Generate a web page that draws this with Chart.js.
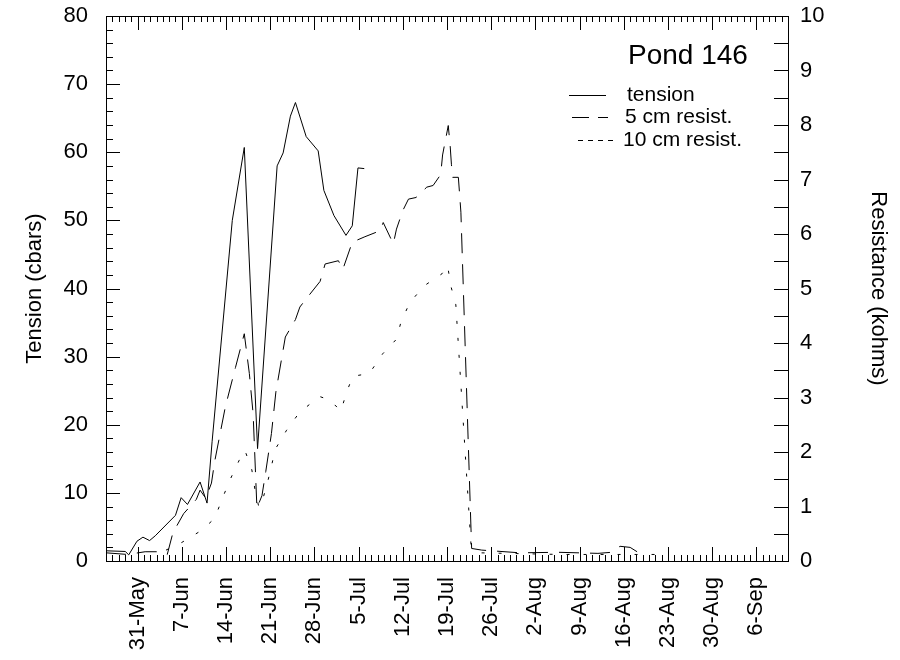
<!DOCTYPE html>
<html>
<head>
<meta charset="utf-8">
<script src="https://cdn.jsdelivr.net/npm/chart.js@4.4.1/dist/chart.umd.min.js"></script>
<style>
  body { margin: 0; background: #fff; }
  #wrap { width: 900px; height: 660px; }
</style>
</head>
<body>
<div id="wrap"><canvas id="pond" width="900" height="660"></canvas></div>
<script>
// days counted from 26-May
var weekTicks = [5, 12, 19, 26, 33, 40, 47, 54, 61, 68, 75, 82, 89, 96, 103];
var weekLabels = ["31-May", "7-Jun", "14-Jun", "21-Jun", "28-Jun", "5-Jul", "12-Jul",
  "19-Jul", "26-Jul", "2-Aug", "9-Aug", "16-Aug", "23-Aug", "30-Aug", "6-Sep"];

// tension (cbars)
var tensionDays = [0, 3.05, 3.6, 4.9, 5.85, 6.9, 7.8, 11, 11.9, 12.9, 14.9, 16, 16.8, 20, 21.9,
  24, 27.1, 28.05, 29.2, 30, 31.7, 33.6, 34.5, 36.1, 38, 39, 39.9, 40.9];
var tensionVals = [1.5, 1.4, 0.9, 2.9, 3.5, 3.0, 3.7, 6.7, 9.3, 8.3, 11.6, 8.5, 17.5, 50, 60.7,
  16.5, 58.0, 59.9, 65.3, 67.3, 62.3, 60.2, 54.4, 50.7, 47.8, 49.2, 57.7, 57.6];

// 5 cm resistance (kohms)
var r5Days = [0, 3.4, 6.2, 9.1, 9.7, 10.6, 12.3, 14.3, 14.9, 15.8, 16.7, 17.2, 18.9, 20.5, 21.9,
  22.7, 23.3, 23.9, 24.7, 25.3, 26.2, 26.9, 28.4, 30, 30.7, 31.7, 33.9, 34.7, 36.8, 37.5, 39,
  41, 43.4, 43.9, 45.5, 46, 47, 47.9, 49.1, 50.8, 51.8, 53, 53.3, 54.2, 54.5, 54.7, 54.9, 55.8,
  56.2, 57.9, 59.5, 65.6, 71.6, 77.9, 80.1, 81.4, 83, 84.1];
var r5Vals = [0.15, 0.12, 0.17, 0.17, 0.12, 0.52, 0.87, 1.13, 1.30, 1.15, 1.43, 1.82, 2.83, 3.55, 4.17,
  3.44, 2.70, 0.97, 1.2, 1.64, 2.34, 3.1, 4.11, 4.43, 4.66, 4.81, 5.13, 5.45, 5.51, 5.35, 5.85,
  5.95, 6.06, 6.21, 5.82, 6.09, 6.43, 6.64, 6.67, 6.86, 6.89, 7.09, 7.45, 7.99, 7.62, 7.28, 7.04, 7.04,
  6.4, 0.23, 0.2, 0.15, 0.16, 0.14, 0.16, 0.27, 0.25, 0.17];

// 10 cm resistance (kohms)
var r10Days = [9.5, 12, 15.1, 17.2, 18.4, 19.6, 21.1, 22, 23.1, 23.6, 24.2, 24.5, 25.4, 26.1, 26.8,
  28.6, 30.6, 33.8, 35.5, 37.2, 38.1, 39.1, 41.7, 43.8, 46, 46.7, 48.1, 50.4, 53.2, 54.1, 54.6,
  55.4, 57.8, 59.2, 71.9, 86.9];
var r10Vals = [0.2, 0.34, 0.56, 0.78, 1.14, 1.48, 1.85, 2.03, 1.67, 1.30, 0.99, 1.01, 1.36, 1.69, 2.05,
  2.40, 2.72, 3.02, 2.95, 2.75, 3.10, 3.39, 3.44, 3.80, 4.07, 4.38, 4.74, 5.05, 5.27, 5.42, 5.05,
  4.7, 0.3, 0.15, 0.12, 0.12];

function pts(days, vals) {
  return days.map((d, i) => ({x: d, y: vals[i]}));
}

var fam = "Arial, 'Liberation Sans', sans-serif";
var tickFont = {family: fam, size: 22};

// no extra room for end labels, the plot box is fixed
function noPad(scale) {
  scale.paddingTop = 0;
  scale.paddingBottom = 0;
  scale.paddingLeft = 0;
  scale.paddingRight = 0;
}

// inward tick marks, frame and the little legend
var decor = {
  id: "decor",
  afterDraw: function(chart) {
    var ctx = chart.ctx;
    var a = chart.chartArea;
    var sx = chart.scales.x, sy = chart.scales.y, sr = chart.scales.y2;
    ctx.save();
    ctx.strokeStyle = "#000";
    ctx.lineWidth = 1;
    ctx.strokeRect(Math.round(a.left) + 0.5, Math.round(a.top) + 0.5,
      Math.round(a.right - a.left), Math.round(a.bottom - a.top));
    ctx.beginPath();
    for (var d = Math.ceil(sx.min); d <= sx.max; d++) {
      var px = Math.round(sx.getPixelForValue(d)) + 0.5;
      var len = (d - weekTicks[0]) % 7 === 0 ? 14 : 6;
      ctx.moveTo(px, a.bottom); ctx.lineTo(px, a.bottom - len);
      ctx.moveTo(px, a.top); ctx.lineTo(px, a.top + len);
    }
    for (var v = 0; v <= 80; v += 2) {
      var py = Math.round(sy.getPixelForValue(v)) + 0.5;
      ctx.moveTo(a.left, py); ctx.lineTo(a.left + (v % 10 === 0 ? 14 : 7), py);
    }
    for (var r = 0; r <= 10; r += 0.5) {
      var ry = Math.round(sr.getPixelForValue(r)) + 0.5;
      ctx.moveTo(a.right, ry); ctx.lineTo(a.right - 14, ry);
    }
    ctx.stroke();

    ctx.fillStyle = "#000";
    ctx.textBaseline = "middle";
    ctx.font = "28px " + fam;
    ctx.fillText("Pond 146", 628, 56);
    ctx.font = "21px " + fam;
    var rows = [
      {text: "tension", dash: [], x0: 569, x1: 606, tx: 627, y: 95},
      {text: "5 cm resist.", dash: [17, 9], x0: 572, x1: 608, tx: 625, y: 117},
      {text: "10 cm resist.", dash: [5, 5], x0: 578, x1: 618, tx: 623, y: 140}
    ];
    rows.forEach(function(row) {
      ctx.setLineDash(row.dash);
      ctx.beginPath();
      ctx.moveTo(row.x0, row.y + 0.5);
      ctx.lineTo(row.x1, row.y + 0.5);
      ctx.stroke();
      ctx.fillText(row.text, row.tx, row.y);
    });
    ctx.restore();
  }
};

new Chart(document.getElementById("pond").getContext("2d"), {
  type: "line",
  data: {
    datasets: [
      {
        label: "tension",
        data: pts(tensionDays, tensionVals),
        yAxisID: "y",
        borderColor: "#000",
        borderWidth: 1,
        pointRadius: 0
      },
      {
        label: "5 cm resist.",
        data: pts(r5Days, r5Vals),
        yAxisID: "y2",
        borderColor: "#000",
        borderWidth: 1,
        borderDash: [20, 11],
        pointRadius: 0
      },
      {
        label: "10 cm resist.",
        data: pts(r10Days, r10Vals),
        yAxisID: "y2",
        borderColor: "#000",
        borderWidth: 1,
        borderDash: [3, 14],
        pointRadius: 0
      }
    ]
  },
  options: {
    responsive: false,
    animation: false,
    layout: {padding: {top: 16, left: 0, right: 0, bottom: 0}},
    plugins: {legend: {display: false}, tooltip: {enabled: false}},
    scales: {
      x: {
        type: "linear",
        min: 0,
        max: 108,
        afterBuildTicks: function(scale) {
          scale.ticks = weekTicks.map(v => ({value: v}));
        },
        afterFit: function(scale) { scale.height = 99; noPad(scale); },
        ticks: {
          callback: (v, i) => weekLabels[i],
          minRotation: 90,
          maxRotation: 90,
          autoSkip: false,
          padding: 16,
          color: "#000",
          font: tickFont
        },
        grid: {display: false, drawTicks: false},
        border: {display: false}
      },
      y: {
        position: "left",
        min: 0,
        max: 80,
        afterFit: function(scale) { scale.width = 106; noPad(scale); },
        ticks: {stepSize: 10, padding: 18, color: "#000", font: tickFont},
        title: {display: true, text: "Tension (cbars)", color: "#000", font: tickFont, padding: {top: 22, bottom: 0}},
        grid: {display: false, drawTicks: false},
        border: {display: false}
      },
      y2: {
        position: "right",
        min: 0,
        max: 10,
        afterFit: function(scale) { scale.width = 112; noPad(scale); },
        ticks: {stepSize: 1, padding: 12, color: "#000", font: tickFont},
        title: {display: true, text: "Resistance (kohms)", color: "#000", font: tickFont, padding: {top: 9, bottom: 0}},
        grid: {display: false, drawTicks: false},
        border: {display: false}
      }
    }
  },
  plugins: [decor]
});
</script>
</body>
</html>
